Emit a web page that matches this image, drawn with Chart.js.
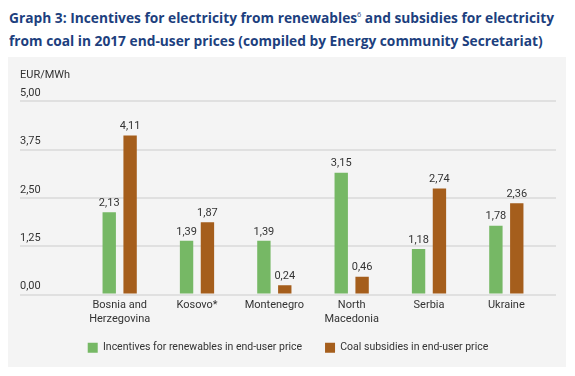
<!DOCTYPE html>
<html>
<head>
<meta charset="utf-8">
<script src="https://cdn.jsdelivr.net/npm/chart.js@4.4.1/dist/chart.umd.min.js"></script>
<style>
  html, body { margin: 0; padding: 0; background: #fff; }
  body { width: 575px; height: 376px; position: relative; overflow: hidden; font-family: "Open Sans", sans-serif; }
  #title {
    position: absolute; left: 9px; top: 6px;
    color: #1d3f7e; font-weight: bold; font-size: 15px; line-height: 23px;
    white-space: nowrap; transform-origin: 0 0;
  }
  #title sup { font-size: 8px; font-weight: normal; vertical-align: 6px; line-height: 0; }
  #panel { position: absolute; left: 8px; top: 57px; width: 558px; height: 310px; background: #f4f4f4; }
</style>
</head>
<body>
<div id="title">Graph 3: Incentives for electricity from renewables<sup>6</sup> and subsidies for electricity<br>from coal in 2017 end-user prices (compiled by Energy community Secretariat)</div>
<div id="panel"><canvas id="chart"></canvas></div>
<script>
// data
const countries = [['Bosnia and', 'Herzegovina'], 'Kosovo*', 'Montenegro', ['North', 'Macedonia'], 'Serbia', 'Ukraine'];
const renewables = [2.13, 1.39, 1.39, 3.15, 1.18, 1.78];
const coal = [4.11, 1.87, 0.24, 0.46, 2.74, 2.36];
const yTicks = [0, 1.25, 2.5, 3.75, 5];
const seriesNames = ['Incentives for renewables in end-user price', 'Coal subsidies in end-user price'];

const GREEN = '#76b865';
const BROWN = '#a55e1c';
const GRID = '#e0e0e0';
const TEXT = '#333333';
const FONT = 'Roboto, sans-serif';

// squeeze the title so line one fits the reference width
const title = document.getElementById('title');
const w = title.getBoundingClientRect().width;
title.style.transform = 'scaleX(' + Math.min(1, 545 / w) + ')';

const comma = v => v.toFixed(2).replace('.', ',');

const valueLabels = {
    id: 'valueLabels',
    afterDatasetsDraw(chart) {
        const ctx = chart.ctx;
        ctx.save();
        ctx.font = '11px ' + FONT;
        ctx.fillStyle = TEXT;
        ctx.textAlign = 'center';
        ctx.textBaseline = 'middle';
        chart.data.datasets.forEach((ds, i) => {
            chart.getDatasetMeta(i).data.forEach((bar, j) => {
                ctx.fillText(comma(ds.data[j]), bar.x, bar.y - 9);
            });
        });
        ctx.restore();
    }
};

Chart.defaults.font.family = FONT;
Chart.defaults.font.size = 11;
Chart.defaults.color = TEXT;

// default legend items, first one followed by a wider gap like the original
const legendItems = chart => {
    const items = Chart.defaults.plugins.legend.labels.generateLabels(chart);
    items[0].text += ' \u2002';
    return items;
};

new Chart(document.getElementById('chart'), {
    type: 'bar',
    data: {
        labels: countries,
        datasets: [
            { label: seriesNames[0], data: renewables, backgroundColor: GREEN },
            { label: seriesNames[1], data: coal, backgroundColor: BROWN }
        ]
    },
    options: {
        responsive: true,
        maintainAspectRatio: false,
        animation: false,
        categoryPercentage: 0.54,
        barPercentage: 0.64,
        layout: { padding: { left: 12, right: 10, top: 0, bottom: 4 } },
        plugins: {
            title: {
                display: true,
                text: 'EUR/MWh',
                align: 'start',
                font: { size: 11, weight: 'normal' },
                color: TEXT,
                padding: { top: 12, bottom: 19 }
            },
            legend: {
                position: 'bottom',
                labels: {
                    boxWidth: 10, boxHeight: 10, padding: 15,
                    font: { size: 10.5 }, color: TEXT,
                    generateLabels: legendItems
                }
            },
            tooltip: { enabled: false }
        },
        scales: {
            x: {
                grid: { display: false, drawTicks: false },
                border: { display: false },
                ticks: { padding: 4, maxRotation: 0, autoSkip: false, font: { size: 11, lineHeight: 1.27 } },
                afterFit: s => { s.height = 33; }
            },
            y: {
                min: 0, max: 5,
                afterBuildTicks: s => { s.ticks = yTicks.map(v => ({ value: v })); },
                grid: { color: GRID, lineWidth: 2, drawTicks: true, tickLength: 61, tickColor: GRID },
                border: { display: false },
                ticks: { crossAlign: 'far', labelOffset: -8, padding: 0, callback: v => comma(v) },
                afterFit: s => { s.width = 61; }
            },
            yRight: {
                position: 'right',
                min: 0, max: 5,
                afterBuildTicks: s => { s.ticks = yTicks.map(v => ({ value: v })); },
                grid: { drawOnChartArea: false, drawTicks: true, tickLength: 11, tickColor: GRID, lineWidth: 2 },
                border: { display: false },
                ticks: { display: false },
                afterFit: s => { s.width = 11; }
            }
        }
    },
    plugins: [valueLabels]
});
</script>
</body>
</html>
